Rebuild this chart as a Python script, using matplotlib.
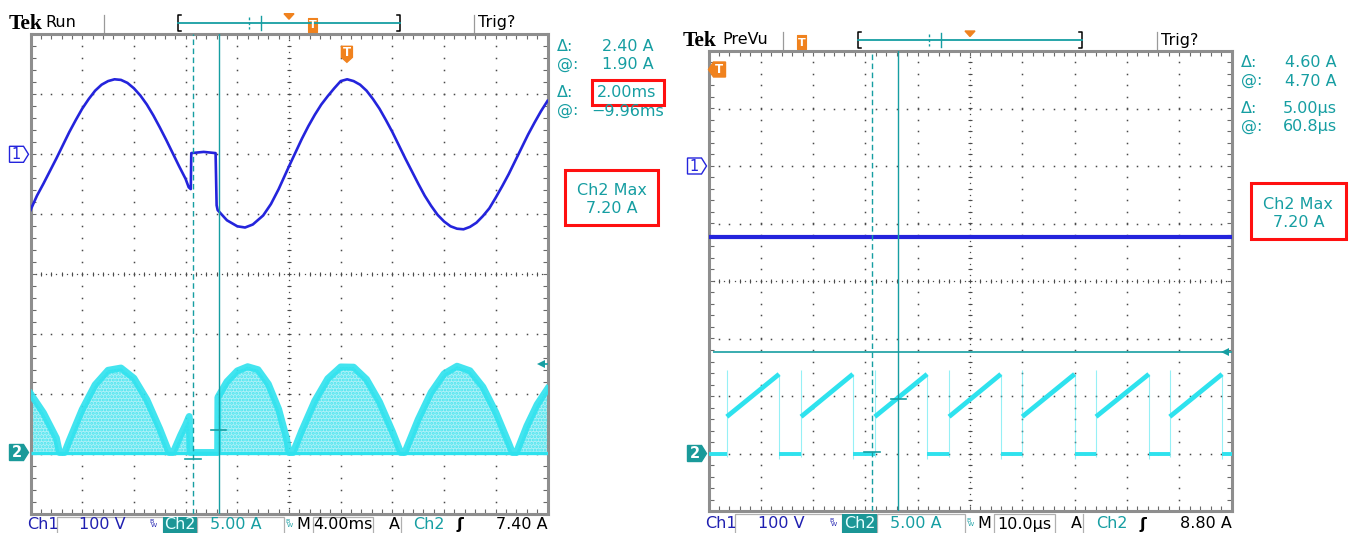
import numpy as np
import matplotlib
matplotlib.use("Agg")
import matplotlib.pyplot as plt
from matplotlib.patches import Polygon, Rectangle

W, H = 1352, 533

# colours of the scope screen
CH1 = "#2424dc"
CH2 = "#2ee2ee"
CH2_FILL = "#aef1f7"
TEAL = "#169ea2"
CH1_TXT = "#1f1fb0"
ORANGE = "#f0821e"
GRID = "#4a4a4a"
FRAME = "#8e8e8e"
RED = "#ff1010"

# ------------------------------------------------------------------
# Left capture: 4.00 ms/div, Ch1 100 V/div, Ch2 5.00 A/div
# ------------------------------------------------------------------
L_TDIV = 4.0
L_CH1_POS, L_CH2_POS = 2.0, -2.97          # trace zero, in divisions
L_CH1_T = [0, 0.5, 1, 1.5, 2, 2.5, 3, 3.5, 4, 4.5, 5, 5.5, 6, 6.5, 7, 7.5, 8,
           8.5, 9, 9.5, 10, 10.5, 11, 11.5, 12, 12.24, 12.40, 12.44, 13.4,
           14.32, 14.40, 14.48, 15.2, 16.0, 16.6, 17.2, 18.0, 18.6, 19.2, 20,
           20.5, 21, 21.5, 22, 22.5, 23, 23.5, 24, 24.5, 25, 25.5, 26, 26.5, 27,
           27.5, 28, 28.5, 29, 29.5, 30, 30.5, 31, 31.5, 32, 32.5, 33, 33.5, 34,
           34.5, 35, 35.5, 36, 36.5, 37, 37.5, 38, 38.5, 39, 39.5, 40]
L_CH1_V = [-93, -69, -49, -28, -7, 15, 37, 57, 76, 92, 106, 116, 122, 125, 124,
           119, 110, 98, 83, 65, 45, 24, 2, -20, -41, -55, -58, 2, 4, 2, -85,
           -93, -110, -120, -122, -117, -102, -83, -58, -20, 3, 26, 47, 66, 83,
           97, 110, 122, 125, 122, 116, 106, 92, 76, 57, 37, 15, -7, -28, -49,
           -69, -86, -101, -112, -120, -124, -125, -121, -114, -103, -90, -72,
           -53, -33, -11, 11, 33, 53, 72, 89]
L_CH2_T = [0, 1.0, 2.0, 2.24, 2.64, 3.0, 4.0, 5.0, 6.0, 7.0, 8.0, 9.0, 10.0,
           10.72, 11.04, 11.6, 12.0, 12.28, 12.34, 14.48, 14.50, 15.2, 16.0,
           16.8, 17.6, 18.4, 19.2, 19.8, 20.0, 20.32, 21, 22, 23, 24, 25, 26,
           27, 28, 28.64, 28.96, 30, 31, 32, 33, 34, 35, 36, 37, 37.28, 37.6,
           38.4, 39.2, 40]
L_CH2_A = [4.9, 3.3, 1.2, 0, 0, 0.99, 3.58, 5.64, 6.85, 7.04, 6.19, 4.40, 1.96,
           0, 0, 1.4, 2.3, 3.0, 0, 0, 4.6, 5.9, 6.8, 7.15, 6.9, 5.7, 3.6, 1.2,
           0, 0, 1.84, 4.30, 6.15, 7.13, 7.11, 6.09, 4.21, 1.74, 0, 0, 2.76,
           5.01, 6.56, 7.19, 6.81, 5.46, 3.34, 0.76, 0, 0, 2.2, 4.0, 5.3]
L_CURSOR_T = [12.56, 14.56]                # dashed, solid (ms)
L_CURSOR_A = [-0.50, 1.90]                 # dashed, solid (A)
L_TRIG_A = 7.40

# ------------------------------------------------------------------
# Right capture: 10.0 us/div
# ------------------------------------------------------------------
R_TDIV = 10.0
R_CH1_POS, R_CH2_POS = 2.0, -3.0
R_CH1_V = -123                              # flat DC level
R_RAMP_ON = [3.5, 17.7, 31.8, 46.0, 60.0, 74.1, 88.2]     # us
R_RAMP_OFF = [13.5, 27.6, 41.8, 55.9, 70.0, 84.2, 98.2]
R_RAMP_LO, R_RAMP_HI = 3.2, 6.9                            # A
R_CURSOR_T = [31.3, 36.3]
R_CURSOR_A = [0.10, 4.70]
R_TRIG_A = 8.80

L_READ = [("Δ:", "2.40 A"), ("@:", "1.90 A"), ("Δ:", "2.00ms"), ("@:", "−9.96ms")]
R_READ = [("Δ:", "4.60 A"), ("@:", "4.70 A"), ("Δ:", "5.00µs"), ("@:", "60.8µs")]
L_BAR = ["Ch1", "100 V", "Ch2", "5.00 A", "4.00ms", "Ch2", "7.40 A"]
R_BAR = ["Ch1", "100 V", "Ch2", "5.00 A", "10.0µs", "Ch2", "8.80 A"]

plt.rcParams["font.family"] = ["DejaVu Sans"]
plt.rcParams["hatch.linewidth"] = 1.4

fig = plt.figure(figsize=(W / 100, H / 100), dpi=100)
c = fig.add_axes([0, 0, 1, 1], zorder=0)
c.set_xlim(0, W)
c.set_ylim(H, 0)
c.axis("off")


def graticule(ax, tdiv):
    ax.set_xlim(0, 10 * tdiv)
    ax.set_ylim(-4, 4)
    for s in ax.spines.values():
        s.set_color(FRAME)
        s.set_linewidth(2.2)
    ax.set_xticks(np.arange(0, 10.001, 0.2) * tdiv)
    ax.set_yticks(np.arange(-4, 4.001, 0.2))
    ax.tick_params(direction="in", length=3.5, width=0.8, color="#6a6a6a",
                   top=True, right=True, labelbottom=False, labelleft=False)
    fy = np.arange(-4, 4.001, 0.2)
    fx = np.arange(0, 10.001, 0.2)
    for i in range(1, 10):
        if i != 5:
            ax.plot(np.full_like(fy, i * tdiv), fy, ls="none", marker="s",
                    ms=1.1, mew=0, color=GRID, zorder=1)
    for j in range(-3, 4):
        if j != 0:
            ax.plot(fx * tdiv, np.full_like(fx, j), ls="none", marker="s",
                    ms=1.1, mew=0, color=GRID, zorder=1)
    dy = np.arange(-4, 4.001, 0.1)
    dx = np.arange(0, 10.001, 0.1)
    ax.plot(np.full_like(dy, 5 * tdiv), dy, ls="none", marker="s", ms=0.9,
            mew=0, color=GRID, zorder=1)
    ax.plot(dx * tdiv, np.zeros_like(dx), ls="none", marker="s", ms=0.9,
            mew=0, color=GRID, zorder=1)
    ax.plot(np.full_like(fy, 5 * tdiv), fy, ls="none", marker="_", ms=3.5,
            mew=0.8, color=GRID, zorder=1)
    ax.plot(fx * tdiv, np.zeros_like(fx), ls="none", marker="|", ms=3.5,
            mew=0.8, color=GRID, zorder=1)


def scope(gx, gy, gw, gh, tdiv):
    ax = fig.add_axes([gx / W, 1 - (gy + gh) / H, gw / W, gh / H], zorder=2)
    graticule(ax, tdiv)
    return ax


def chan_tag(ax, gw, gh, level, label, filled, color):
    tr = ax.get_yaxis_transform()
    h = 8.0 / (gh / 8.0)
    x0, x1, x2 = -21.0 / gw, -7.0 / gw, -2.0 / gw
    pts = [(x0, level - h), (x1, level - h), (x2, level), (x1, level + h), (x0, level + h)]
    ax.add_patch(Polygon(pts, closed=True, transform=tr, clip_on=False,
                         facecolor=color if filled else "white", edgecolor=color,
                         lw=1.0, zorder=6))
    ax.text((x0 + x1) / 2, level, label, transform=tr, ha="center", va="center",
            color="white" if filled else color, fontsize=10.5,
            fontweight="bold" if filled else "normal", clip_on=False, zorder=7)


def trig_arrow(ax, gw, level):
    tr = ax.get_yaxis_transform()
    ax.plot([1 - 7.0 / gw], [level], transform=tr, marker="<", ms=6, mew=0,
            color=TEAL, clip_on=False, zorder=6)
    ax.plot([1 - 7.0 / gw, 1 - 1.0 / gw], [level, level], transform=tr,
            color=TEAL, lw=1.2, clip_on=False, zorder=6)


def cursors(ax, tdiv, ts, amps, ch2_pos):
    ax.axvline(ts[0], color=TEAL, lw=1.0, ls=(0, (4, 2.5)), zorder=5)
    ax.axvline(ts[1], color=TEAL, lw=1.0, zorder=5)
    for t, a in zip(ts, amps):
        ax.plot([t - 0.15 * tdiv, t + 0.15 * tdiv], [ch2_pos + a / 5] * 2,
                color=TEAL, lw=1.2, zorder=5)


def top_bar(gx, gw, yc, tek_x, word_dx, word, t_frac):
    fx = lambda f: gx + f * gw
    c.text(tek_x - 1, yc + 1, "Tek", family="Liberation Serif", fontweight="bold",
           fontsize=15.5, ha="left", va="center", color="black")
    c.text(tek_x + word_dx, yc, word, fontsize=11.5, ha="left", va="center")
    for f in (0.142, 0.858):
        c.plot([fx(f)] * 2, [yc - 8, yc + 10], color="#9a9a9a", lw=0.9)
    b0, b1 = fx(0.286), fx(0.714)
    c.plot([b0 + 3, b0, b0, b0 + 3], [yc - 8, yc - 8, yc + 8, yc + 8], color="black", lw=1.1)
    c.plot([b1 - 3, b1, b1, b1 - 3], [yc - 8, yc - 8, yc + 8, yc + 8], color="black", lw=1.1)
    c.plot([b0, b1], [yc, yc], color=TEAL, lw=1.3)
    c.plot([fx(0.4225)] * 2, [yc - 6, yc + 6], color=TEAL, lw=1.0, ls=(0, (2, 1.5)))
    c.plot([fx(0.445)] * 2, [yc - 7, yc + 7], color=TEAL, lw=1.0)
    m = fx(0.5)
    c.add_patch(Polygon([(m - 5, yc - 9), (m + 5, yc - 9), (m, yc - 3.5)], color=ORANGE))
    tx = fx(t_frac)
    c.add_patch(Rectangle((tx - 4.5, yc - 5), 9, 14, facecolor=ORANGE, edgecolor=ORANGE,
                          lw=0.8, joinstyle="round"))
    c.text(tx, yc + 2.5, "T", color="white", fontsize=8, fontweight="bold",
           ha="center", va="center")
    c.text(fx(0.865), yc, "Trig?", fontsize=11.5, ha="left", va="center")


def readouts(x, ys, rows, lefts):
    for (lab, val), y, vx in zip(rows, ys, lefts):
        c.text(x, y, lab, color=TEAL, fontsize=11.5, ha="left", va="center")
        c.text(vx, y, val, color=TEAL, fontsize=11.5, ha="left", va="center")


def max_box(x0, y0, x1, y1, value):
    c.add_patch(Rectangle((x0, y0), x1 - x0, y1 - y0, fill=False, edgecolor=RED, lw=2.2))
    xm = (x0 + x1) / 2
    c.text(xm, y0 + 0.38 * (y1 - y0), "Ch2 Max", color=TEAL, fontsize=11.5,
           ha="center", va="center")
    c.text(xm, y0 + 0.7 * (y1 - y0), value, color=TEAL, fontsize=11.5,
           ha="center", va="center")


def bottom_bar(gx, gw, gbot, yc, texts):
    fx = lambda f: gx + f * gw
    ch1, v1, ch2, v2, tb, trig_ch, trig = texts
    fs = 11.5
    # grey outline boxes of the readout fields
    for f0, f1 in ((0.051, 0.2557), (0.3215, 0.49), (0.546, 0.662)):
        c.add_patch(Rectangle((fx(f0), gbot + 2.5), fx(f1) - fx(f0), H - gbot,
                              fill=False, edgecolor="#b0b0b0", lw=0.9))
    c.plot([fx(0.717)] * 2, [gbot + 2.5, H], color="#b0b0b0", lw=0.9)
    c.text(fx(-0.006), yc, ch1, color=CH1_TXT, fontsize=fs, ha="left", va="center")
    c.text(fx(0.139), yc, v1, color=CH1_TXT, fontsize=fs, ha="center", va="center")
    for f, col in ((0.235, CH1_TXT), (0.498, TEAL)):
        c.text(fx(f), yc - 3, "B", color=col, fontsize=4.5, ha="center", va="center")
        c.text(fx(f) + 2, yc + 1, "W", color=col, fontsize=4.5, ha="center", va="center")
    c.add_patch(Rectangle((fx(0.2557), gbot + 2.5), fx(0.3215) - fx(0.2557), H - gbot,
                          facecolor="#1b9696", edgecolor="none"))
    c.text(fx(0.2886), yc, ch2, color="#e6ffff", fontsize=fs, ha="center", va="center")
    c.text(fx(0.3965), yc, v2, color=TEAL, fontsize=fs, ha="center", va="center")
    c.text(fx(0.528), yc, "M", color="black", fontsize=fs, ha="center", va="center")
    c.text(fx(0.604), yc, tb, color="black", fontsize=fs, ha="center", va="center")
    c.text(fx(0.703), yc, "A", color="black", fontsize=fs, ha="center", va="center")
    c.text(fx(0.771), yc, trig_ch, color=TEAL, fontsize=fs, ha="center", va="center")
    c.text(fx(0.831), yc, "ʃ", color="black", fontsize=fs, fontweight="bold",
           ha="center", va="center")
    c.text(fx(1.0), yc, trig, color="black", fontsize=fs, ha="right", va="center")


# ------------------------------------------------------------------
# Left scope
# ------------------------------------------------------------------
LGX, LGY, LGW, LGH = 30.5, 34.3, 517.0, 480.0
axl = scope(LGX, LGY, LGW, LGH, L_TDIV)

t2 = np.array(L_CH2_T)
a2 = np.array(L_CH2_A)
top2 = L_CH2_POS + a2 / 5.0
axl.fill_between(t2, L_CH2_POS, top2, facecolor=CH2_FILL, edgecolor="#45e4ef",
                 hatch=".....", linewidth=0, zorder=2)
axl.plot(t2, top2, color=CH2, lw=5.0, alpha=0.9, solid_joinstyle="round", zorder=3)
axl.hlines(L_CH2_POS, 0, 10 * L_TDIV, color=CH2, lw=2.4, zorder=3)
axl.plot(L_CH1_T, L_CH1_POS + np.array(L_CH1_V) / 100.0, color=CH1, lw=1.9,
         solid_joinstyle="round", zorder=4)
cursors(axl, L_TDIV, L_CURSOR_T, L_CURSOR_A, L_CH2_POS)
chan_tag(axl, LGW, LGH, L_CH1_POS, "1", False, CH1)
chan_tag(axl, LGW, LGH, L_CH2_POS, "2", True, "#1a9a9a")
trig_arrow(axl, LGW, L_CH2_POS + L_TRIG_A / 5.0)

# trigger markers
m = LGX + LGW / 2
c.add_patch(Polygon([(m - 5.5, LGY + 2), (m + 5.5, LGY + 2), (m, LGY + 9)],
                    color=ORANGE, zorder=3))
tx = LGX + 6.12 * LGW / 10
axl.add_patch(Polygon([(tx - 5.5, LGY + 12), (tx + 5.5, LGY + 12), (tx + 5.5, LGY + 23),
                       (tx, LGY + 28), (tx - 5.5, LGY + 23)],
                      transform=c.transData, color=ORANGE, zorder=6, clip_on=False))
axl.text(tx, LGY + 18.5, "T", transform=c.transData, color="white", fontsize=8.5,
         fontweight="bold", ha="center", va="center", zorder=7)

top_bar(LGX, LGW, 22.7, 10, 35, "Run", 0.546)
readouts(557, [46.7, 64.3, 92.7, 111.0], L_READ, [602, 602, 597, 591])
c.add_patch(Rectangle((591.7, 80), 72.3, 25.3, fill=False, edgecolor=RED, lw=2.2))
max_box(565, 170, 658.3, 225, "7.20 A")
bottom_bar(LGX, LGW, LGY + LGH, 524.5, L_BAR)

# ------------------------------------------------------------------
# Right scope
# ------------------------------------------------------------------
RGX, RGY, RGW, RGH = 708.5, 51.0, 523.0, 460.0
axr = scope(RGX, RGY, RGW, RGH, R_TDIV)

on = np.array(R_RAMP_ON)
off = np.array(R_RAMP_OFF)
flat_a = np.concatenate([[0.0], off])
flat_b = np.concatenate([on, [10 * R_TDIV]])
axr.hlines(np.full(len(flat_a), R_CH2_POS), flat_a, flat_b, color=CH2, lw=2.8, zorder=3)
for t0, t1 in zip(on, off):
    axr.plot([t0, t1], [R_CH2_POS + R_RAMP_LO / 5, R_CH2_POS + R_RAMP_HI / 5],
             color=CH2, lw=3.4, solid_capstyle="butt", zorder=3)
axr.vlines(on, R_CH2_POS - 0.3 / 5, R_CH2_POS + 7.3 / 5, color=CH2, lw=0.8,
           alpha=0.5, zorder=3)
axr.vlines(off, R_CH2_POS - 0.5 / 5, R_CH2_POS + R_RAMP_HI / 5, color=CH2, lw=0.8,
           alpha=0.5, zorder=3)
axr.hlines(R_CH1_POS + R_CH1_V / 100.0, 0, 10 * R_TDIV, color=CH1, lw=3.0, zorder=4)
axr.hlines(R_CH2_POS + R_TRIG_A / 5.0, 0.09 * R_TDIV, 9.88 * R_TDIV, color=TEAL,
           lw=1.2, zorder=5)
cursors(axr, R_TDIV, R_CURSOR_T, R_CURSOR_A, R_CH2_POS)
chan_tag(axr, RGW, RGH, R_CH1_POS, "1", False, CH1)
chan_tag(axr, RGW, RGH, R_CH2_POS, "2", True, "#1a9a9a")
trig_arrow(axr, RGW, R_CH2_POS + R_TRIG_A / 5.0)

m = RGX + RGW / 2
c.add_patch(Polygon([(m - 5.5, RGY + 2), (m + 5.5, RGY + 2), (m, RGY + 8)],
                    color=ORANGE, zorder=3))
axr.add_patch(Polygon([(RGX + 17, RGY + 11), (RGX + 17, RGY + 26), (RGX + 5, RGY + 26),
                       (RGX, RGY + 18.5), (RGX + 5, RGY + 11)],
                      transform=c.transData, color=ORANGE, zorder=6, clip_on=False))
axr.text(RGX + 10, RGY + 18.5, "T", transform=c.transData, color="white", fontsize=8.5,
         fontweight="bold", ha="center", va="center", zorder=7)

top_bar(RGX, RGW, 40, 684, 38, "PreVu", 0.178)
readouts(1240.7, [62.7, 81.0, 108.3, 126.7], R_READ, [1285, 1285, 1282.7, 1282.7])
max_box(1251, 183.3, 1345.7, 239, "7.20 A")
bottom_bar(RGX, RGW, RGY + RGH, 524, R_BAR)

fig.savefig("out.png", dpi=100)
